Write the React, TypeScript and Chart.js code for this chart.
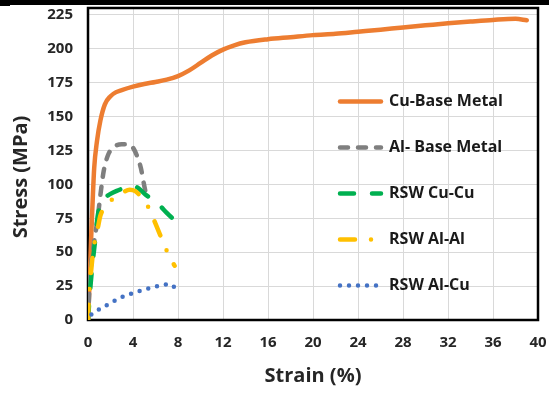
import React, { useEffect, useRef } from 'react';
import { Chart, registerables } from 'chart.js';

Chart.register(...registerables);

const seriesNames = ['Cu-Base Metal', 'Al- Base Metal', 'RSW Cu-Cu', 'RSW Al-Al', 'RSW Al-Cu'];
const seriesColors = ['#ED7D31', '#7F7F7F', '#00B050', '#FFC000', '#4472C4'];

const cuBaseStrain = [0, 0.15, 0.3, 0.4, 0.55, 0.8, 1.1, 1.5, 2.0, 2.5, 3.0, 4.0, 5.0, 6.0, 7.0, 8.0, 9.0, 10.0, 11.0, 12.0, 13.0, 14.0, 16.0, 18.0, 20.0, 22.0, 24.0, 26.0, 28.0, 30.0, 32.0, 34.0, 36.0, 38.0, 39.0];
const cuBaseStress = [0, 30, 65, 85, 112, 132, 147, 159, 165, 168, 169.5, 172, 174, 175.5, 177.2, 179.8, 184, 189.5, 195, 199.3, 202.5, 204.7, 207, 208.5, 210, 211, 212.5, 214, 215.7, 217.2, 218.7, 220, 221.2, 222, 221];

const alBaseStrain = [0, 0.1, 0.25, 0.5, 0.7, 0.9, 1.1, 1.4, 1.8, 2.3, 3.0, 3.5, 4.0, 4.4, 4.7, 5.0, 5.25];
const alBaseStress = [0, 18, 38, 55, 66, 78, 92, 110, 122, 127.5, 129.5, 129.5, 127, 120, 112, 99, 89];

const cuCuStrain = [0, 0.1, 0.25, 0.45, 0.68, 0.85, 1.1, 1.5, 2.0, 2.8, 3.5, 4.0, 4.5, 5.1, 5.7, 6.3, 7.0, 7.5, 8.0];
const cuCuStress = [0, 12, 28, 45, 62, 76, 85, 90, 93, 96, 98.5, 99, 97, 92.5, 89, 85, 79, 75, 70.5];

const alAlStrain = [0, 0.05, 0.15, 0.3, 0.45, 0.65, 0.85, 1.1, 1.4, 1.8, 2.3, 3.0, 3.7, 4.2, 4.7, 5.1, 5.6, 6.0, 6.4, 6.9, 7.3, 7.7];
const alAlStress = [0, 12, 25, 38, 50, 60, 67, 77, 82, 86, 90, 93.5, 96, 95, 91, 87, 79, 71, 63, 53, 46, 40];

const alCuStrain = [0.3, 0.53, 1.27, 2.08, 2.9, 3.7, 4.5, 5.4, 6.3, 7.1, 7.5, 7.8];
const alCuStress = [4, 5.7, 9, 12.8, 16.5, 19, 21.2, 23.3, 25.2, 26.3, 25.5, 22.7];

const xTickValues = [0, 4, 8, 12, 16, 20, 24, 28, 32, 36, 40];
const yTickValues = [0, 25, 50, 75, 100, 125, 150, 175, 200, 225];
const yAxisTitle = 'Stress (MPa)';
const xAxisTitle = 'Strain (%)';

const strainSeries = [cuBaseStrain, alBaseStrain, cuCuStrain, alAlStrain, alCuStrain];
const stressSeries = [cuBaseStress, alBaseStress, cuCuStress, alAlStress, alCuStress];
const dashPatterns: number[][] = [[], [8, 10], [14, 18], [15, 16, 0, 16], [0, 9]];

const FONT = "'Open Sans', 'DejaVu Sans', sans-serif";

const framePlugin = {
  id: 'frame',
  beforeDraw(chart: any) {
    const ctx = chart.ctx;
    ctx.save();
    ctx.fillStyle = '#000';
    ctx.fillRect(0, 0, chart.width, 5);
    ctx.fillRect(0, 5, 10, 1);
    ctx.restore();
  },
  beforeDatasetsDraw(chart: any) {
    const { ctx, chartArea } = chart;
    ctx.save();
    ctx.strokeStyle = '#000';
    ctx.lineWidth = 2.5;
    ctx.strokeRect(chartArea.left, chartArea.top, chartArea.right - chartArea.left, chartArea.bottom - chartArea.top);
    ctx.restore();
  },
  afterDraw(chart: any) {
    const { ctx, chartArea } = chart;
    ctx.save();
    ctx.translate(21, (chartArea.top + chartArea.bottom) / 2 + 13);
    ctx.rotate(-Math.PI / 2);
    ctx.font = `bold 20px ${FONT}`;
    ctx.fillStyle = '#262626';
    ctx.textAlign = 'center';
    ctx.textBaseline = 'middle';
    ctx.fillText(yAxisTitle, 0, 0);
    ctx.restore();
  },
};

const legendPlugin = {
  id: 'insideLegend',
  afterDatasetsDraw(chart: any) {
    const { ctx, chartArea } = chart;
    const x0 = chartArea.left + 250;
    const x1 = x0 + 45;
    const tx = x1 + 6;
    ctx.save();
    chart.data.datasets.forEach((ds: any, i: number) => {
      const y = 101.5 + i * 46;
      ctx.beginPath();
      ctx.setLineDash(ds.borderDash || []);
      ctx.lineCap = 'round';
      ctx.lineWidth = ds.borderWidth;
      ctx.strokeStyle = ds.borderColor;
      ctx.moveTo(x0 + 2, y);
      ctx.lineTo(x1 - 2, y);
      ctx.stroke();
      ctx.setLineDash([]);
      ctx.fillStyle = '#1a1a1a';
      ctx.font = `bold 16px ${FONT}`;
      ctx.textBaseline = 'middle';
      ctx.textAlign = 'left';
      ctx.fillText(ds.label, tx, y);
    });
    ctx.restore();
  },
};

export default function App() {
  const ref = useRef<HTMLCanvasElement | null>(null);

  useEffect(() => {
    if (!ref.current) return;
    const datasets = seriesNames.map((name, i) => ({
      label: name,
      data: strainSeries[i].map((x, j) => ({ x, y: stressSeries[i][j] })),
      borderColor: seriesColors[i],
      backgroundColor: seriesColors[i],
      borderWidth: 4.5,
      borderDash: dashPatterns[i],
      borderCapStyle: 'round' as const,
      borderJoinStyle: 'round' as const,
      pointRadius: 0,
      cubicInterpolationMode: 'monotone' as const,
      fill: false,
      order: 5 - i,
    }));

    const chart = new Chart(ref.current, {
      type: 'line',
      data: { datasets },
      plugins: [framePlugin, legendPlugin],
      options: {
        animation: false,
        responsive: false,
        devicePixelRatio: 1,
        layout: { padding: { top: 8, right: 11, left: 0, bottom: 0 } },
        plugins: { legend: { display: false }, tooltip: { enabled: false } },
        scales: {
          x: {
            type: 'linear',
            min: 0,
            max: 40,
            afterBuildTicks: (scale: any) => {
              scale.ticks = xTickValues.map((v) => ({ value: v }));
            },
            afterFit: (scale: any) => {
              scale.height = 74;
              scale.paddingLeft = 0;
              scale.paddingRight = 0;
            },
            ticks: {
              font: { family: FONT, size: 15, weight: 'bold' },
              color: '#262626',
              padding: 14,
              maxRotation: 0,
            },
            grid: { color: '#d9d9d9', lineWidth: 1, drawTicks: false },
            border: { display: false },
            title: {
              display: true,
              text: xAxisTitle,
              font: { family: FONT, size: 20, weight: 'bold' },
              color: '#262626',
              padding: { top: 4, bottom: 6 },
            },
          },
          y: {
            type: 'linear',
            min: 0,
            max: 230,
            afterBuildTicks: (scale: any) => {
              scale.ticks = yTickValues.map((v) => ({ value: v }));
            },
            afterFit: (scale: any) => {
              scale.width = 88;
              scale.paddingTop = 0;
              scale.paddingBottom = 0;
            },
            ticks: {
              font: { family: FONT, size: 15, weight: 'bold' },
              color: '#262626',
              padding: 15,
            },
            grid: { color: '#d9d9d9', lineWidth: 1, drawTicks: false },
            border: { display: false },
            title: { display: false },
          },
        },
      },
    });
    return () => chart.destroy();
  }, []);

  return (
    <div style={{ position: 'absolute', left: 0, top: 0, width: 549, height: 394, background: '#fff' }}>
      <canvas ref={ref} width={549} height={394} style={{ display: 'block' }} />
    </div>
  );
}
